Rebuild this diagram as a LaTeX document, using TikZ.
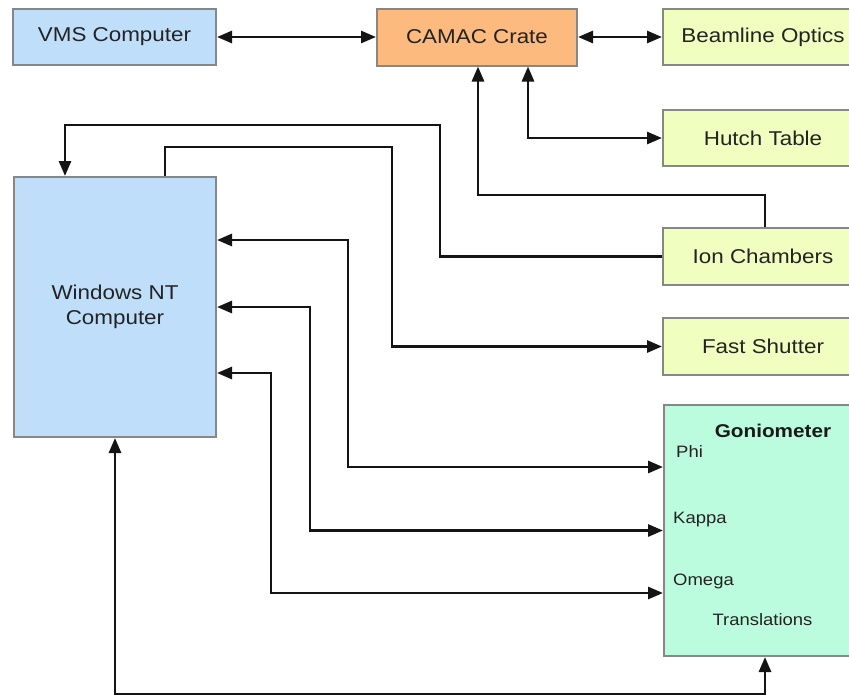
\documentclass[tikz,border=0pt]{standalone}
\usepackage{fontspec}
\setmainfont{Liberation Sans}[FakeStretch=1.12]
\usetikzlibrary{arrows.meta,calc}
\definecolor{vmsblue}{RGB}{191,222,250}
\definecolor{camacor}{RGB}{253,186,126}
\definecolor{devyel}{RGB}{240,254,192}
\definecolor{goniomint}{RGB}{188,252,222}
\definecolor{boxedge}{RGB}{135,135,135}
\definecolor{linecol}{RGB}{20,20,20}
\definecolor{txtcol}{RGB}{35,35,35}
\tikzset{
  box/.style={draw=boxedge, line width=2pt, inner sep=0pt, align=center, text=txtcol,
    font=\fontsize{20}{25}\selectfont},
  devbox/.style={box, fill=devyel, minimum width=200pt, minimum height=56pt},
  conn/.style={draw=linecol, line width=2.8pt, line join=miter},
  glabel/.style={inner sep=0pt, text=txtcol, font=\fontsize{16.5}{20}\selectfont},
  gtitle/.style={inner sep=0pt, text=black!90, font=\fontsize{18.5}{22}\selectfont\bfseries}
}
\begin{document}
\begin{tikzpicture}[x=1pt,y=-1pt,>={Triangle[length=15pt,width=12pt]}]
\clip (0,0) rectangle (849,697);
\fill[white] (0,0) rectangle (849,697);
% boxes
\node[box, fill=vmsblue, minimum width=203pt, minimum height=56pt] (vms) at (114.5,37) {VMS Computer};
\node[box, fill=camacor, minimum width=200pt, minimum height=57pt] (camac) at (477,37) {CAMAC Crate};
\node[devbox] (optics) at (763,37) {Beamline Optics};
\node[devbox] (hutch) at (763,138) {Hutch Table};
\node[devbox, minimum height=57pt] (ion) at (763,256.5) {Ion Chambers};
\node[devbox, minimum height=57pt] (shutter) at (763,346.5) {Fast Shutter};
\node[box, fill=vmsblue, minimum width=202pt, minimum height=260pt] (win) at (115,307) {Windows NT\\Computer};
\node[box, fill=goniomint, minimum width=200pt, minimum height=251pt] (gonio) at (764,530.5) {};
% goniometer labels
\node[gtitle, anchor=base] (gtit) at (773,437) {Goniometer};
\node[glabel, anchor=base west] (phi) at (676,457) {Phi};
\node[glabel, anchor=base west] (kappa) at (673,523) {Kappa};
\node[glabel, anchor=base west] (omega) at (673,585) {Omega};
\node[glabel, anchor=base] (trans) at (762.5,625) {Translations};
% bend points
\coordinate (ionup) at (478,195);
\coordinate (ionleft) at (440,125);
\coordinate (shut) at (392,147);
\coordinate (phibend) at (348,467);
\coordinate (kapbend) at (310,530.5);
\coordinate (omebend) at (271,593);
\coordinate (transbend) at (115,694);
% connectors
\draw[conn,<->] (vms.east) -- (camac.west);
\draw[conn,<->] (camac.east) -- (optics.west);
\draw[conn,<->] ([xshift=51pt]camac.south) |- (hutch.west);
\draw[conn,->] ([xshift=2pt]ion.north) |- (ionup) -- (ionup |- camac.south);
\draw[conn,->] (ion.west) -| (ionleft) -| ([xshift=-50pt]win.north);
\draw[conn,->] ([xshift=50pt]win.north) |- (shut) |- (shutter.west);
\draw[conn,<->] ([yshift=67pt]win.east) -| (phibend) -- (phibend -| gonio.west);
\draw[conn,<->] (win.east) -| (kapbend) -- (gonio.west);
\draw[conn,<->] ([yshift=-66pt]win.east) -| (omebend) -- (omebend -| gonio.west);
\draw[conn,<->] (win.south) -- (transbend) -| ([xshift=1pt]gonio.south);
\end{tikzpicture}
\end{document}
